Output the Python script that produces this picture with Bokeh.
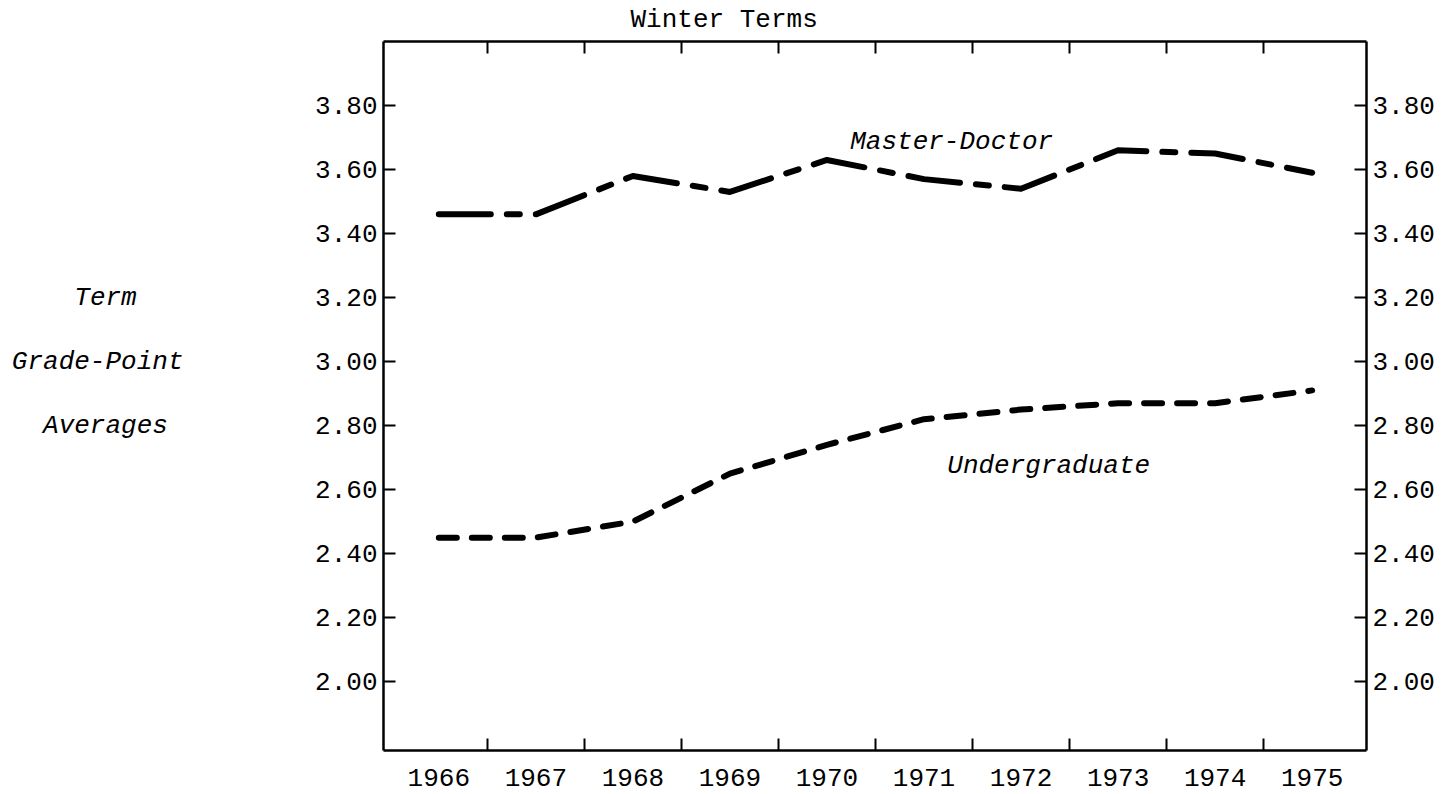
from bokeh.plotting import figure
from bokeh.models import LinearAxis, FixedTicker, PrintfTickFormatter, Range1d, Label, Title
from bokeh.embed import file_html
from bokeh.resources import INLINE

# ---- data ----
years = [1966, 1967, 1968, 1969, 1970, 1971, 1972, 1973, 1974, 1975]
year_boundaries = [1966.5, 1967.5, 1968.5, 1969.5, 1970.5, 1971.5, 1972.5, 1973.5, 1974.5]
master_doctor = [3.46, 3.46, 3.58, 3.53, 3.63, 3.57, 3.54, 3.66, 3.65, 3.59]
undergraduate = [2.45, 2.45, 2.50, 2.65, 2.74, 2.82, 2.85, 2.87, 2.87, 2.91]
gpa_ticks = [2.0, 2.2, 2.4, 2.6, 2.8, 3.0, 3.2, 3.4, 3.6, 3.8]
title_text = "Winter Terms"
y_title_lines = ["Term", "Grade-Point", "Averages"]
y_title_pos = [3.2, 3.0, 2.8]
y_title_pad = [3, 0, 1]

FONT = "Liberation Mono"
FS = "26px"
W, H = 1455, 794

p = figure(width=W, height=H, output_backend="svg", toolbar_location=None,
           x_range=Range1d(1965.43, 1975.56), y_range=Range1d(1.785, 4.0),
           x_axis_location=None, y_axis_location=None,
           min_border_left=383, min_border_right=W - 1366, min_border_top=41,
           min_border_bottom=H - 750,
           background_fill_color="white", border_fill_color="white")
p.outline_line_color = None
p.xgrid.grid_line_color = None
p.ygrid.grid_line_color = None


def style_axis(ax, show_labels=True):
    ax.axis_line_color = "black"
    ax.axis_line_width = 2.5
    ax.major_label_text_font = FONT
    ax.major_label_text_font_size = FS if show_labels else "0px"
    ax.major_label_text_color = "black"


# bottom / top year axes
for loc, show in (("below", True), ("above", False)):
    ax = LinearAxis(ticker=FixedTicker(ticks=years, minor_ticks=year_boundaries))
    style_axis(ax, show)
    ax.major_tick_line_color = None
    ax.minor_tick_line_color = "black"
    ax.minor_tick_line_width = 2
    ax.minor_tick_in = 12
    ax.minor_tick_out = 0
    ax.major_label_standoff = 12 if show else 0
    if not show:
        ax.major_label_overrides = {y: "" for y in years}
    p.add_layout(ax, loc)

# left / right GPA axes
for loc in ("left", "right"):
    ax = LinearAxis(ticker=FixedTicker(ticks=gpa_ticks, minor_ticks=[]),
                    formatter=PrintfTickFormatter(format="%.2f"))
    style_axis(ax)
    ax.major_tick_line_color = "black"
    ax.major_tick_line_width = 2
    ax.major_tick_in = 12
    ax.major_tick_out = 0
    ax.minor_tick_line_color = None
    ax.major_label_standoff = 6
    p.add_layout(ax, loc)

# y title ("Term / Grade-Point / Averages") as labels of an extra, line-less axis
ytitle_axis = LinearAxis(ticker=FixedTicker(ticks=y_title_pos, minor_ticks=[]))
ytitle_axis.major_label_overrides = {
    pos: txt + "\u00a0" * pad for pos, txt, pad in zip(y_title_pos, y_title_lines, y_title_pad)
}
ytitle_axis.axis_line_color = None
ytitle_axis.major_tick_line_color = None
ytitle_axis.minor_tick_line_color = None
ytitle_axis.major_label_text_font = FONT
ytitle_axis.major_label_text_font_size = FS
ytitle_axis.major_label_text_font_style = "italic"
ytitle_axis.major_label_text_color = "black"
ytitle_axis.major_label_standoff = 123
p.add_layout(ytitle_axis, "left")

# "Winter Terms" heading
p.add_layout(Title(text=title_text, align="left", offset=247, standoff=2,
                   text_font=FONT, text_font_size=FS, text_font_style="normal",
                   text_color="black"), "above")

# series
p.line(years, master_doctor, line_color="black", line_width=6,
       line_dash="52 16 13 16", line_cap="round", line_join="round")
p.line(years, undergraduate, line_color="black", line_width=6,
       line_dash="18 15", line_cap="round", line_join="round")

# in-plot series labels
p.add_layout(Label(x=1970.24, y=3.685, text="Master-Doctor", text_font=FONT,
                   text_font_size=FS, text_font_style="italic", text_align="left",
                   text_baseline="alphabetic", text_color="black"))
p.add_layout(Label(x=1971.24, y=2.675, text="Undergraduate", text_font=FONT,
                   text_font_size=FS, text_font_style="italic", text_align="left",
                   text_baseline="alphabetic", text_color="black"))

open("out.html", "w").write(file_html(p, INLINE))
